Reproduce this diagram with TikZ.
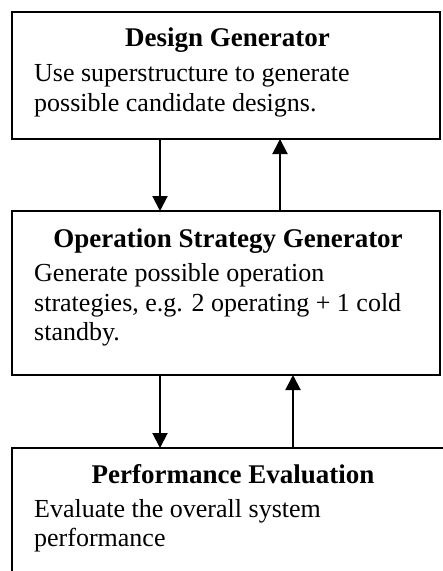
\documentclass[tikz,border=0pt]{standalone}
\usepackage{fontspec}
\setmainfont{Liberation Serif}
\usetikzlibrary{arrows.meta}
\tikzset{
	box/.style 2 args={draw,line width=1.7bp,outer sep=0pt,inner sep=0pt,minimum width=#1,minimum height=#2,anchor=north west},
	ttl/.style={font=\fontsize{27bp}{30bp}\selectfont\bfseries,anchor=base,inner sep=0pt},
	txt/.style={font=\fontsize{26bp}{30bp}\selectfont,anchor=base west,inner sep=0pt},
	arr/.style={line width=2bp,-{Triangle[length=15bp,width=15bp]}}
}

\begin{document}
\begin{tikzpicture}[x=1bp,y=-1bp]
	\clip (0,0) rectangle (443,571);
	\node [box={428bp}{127bp}] (dg) at (12,12) {};
	\node [box={428bp}{164bp}] (osg) at (12,211) {};
	\node [box={470bp}{170bp}] (pe) at (12,448) {};

	\node [ttl] (dgt) at (227.5,46.5) {Design Generator};
	\node [txt] (dga) at (34,82) {Use superstructure to generate};
	\node [txt] (dgb) at (34,111.5) {possible candidate designs.};

	\node [ttl] (osgt) at (228,247) {Operation Strategy Generator};
	\node [txt] (osga) at (34,281.5) {Generate possible operation};
	\node [txt] (osgb) at (34,311) {strategies, e.g. 2 operating + 1 cold};
	\node [txt] (osgc) at (34,340.5) {standby.};

	\node [ttl] (pet) at (233,483) {Performance Evaluation};
	\node [txt] (pea) at (34,517) {Evaluate the overall system};
	\node [txt] (peb) at (34,546.5) {performance};

	\draw [arr] ([xshift=148bp]dg.south west) -- ([xshift=148bp]osg.north west);
	\draw [arr] ([xshift=268bp]osg.north west) -- ([xshift=268bp]dg.south west);
	\draw [arr] ([xshift=148bp]osg.south west) -- ([xshift=148bp]pe.north west);
	\draw [arr] ([xshift=281bp]pe.north west) -- ([xshift=281bp]osg.south west);
\end{tikzpicture}
\end{document}
